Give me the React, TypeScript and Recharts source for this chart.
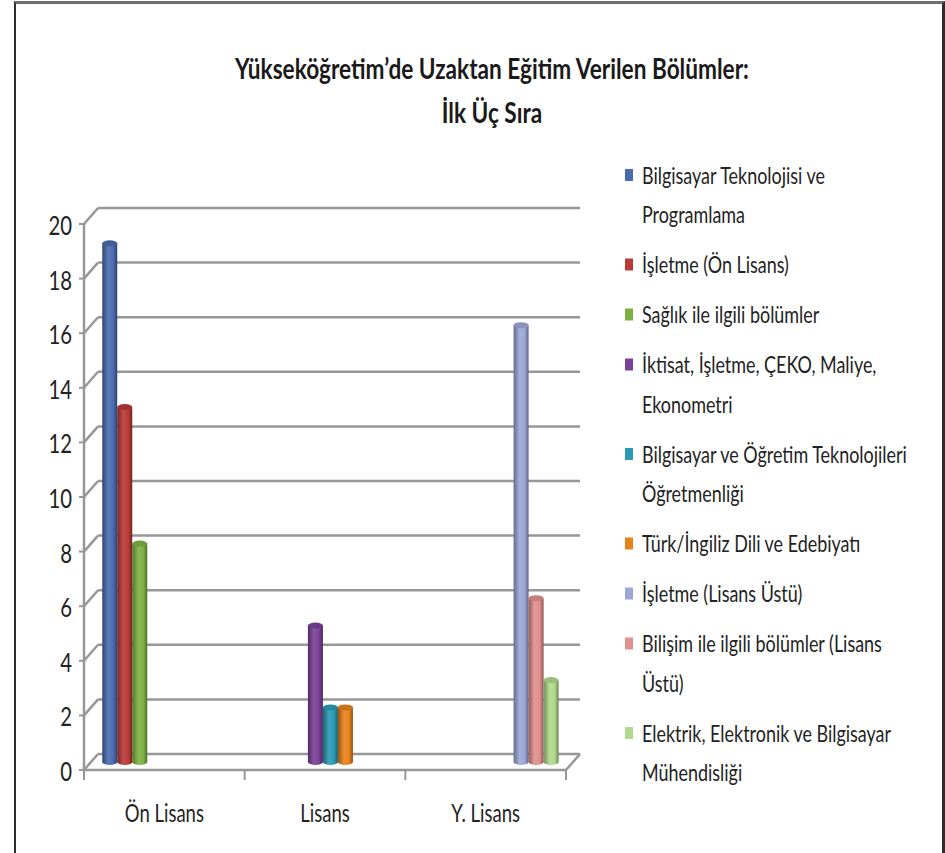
import React from "react";
import { BarChart, Bar, XAxis, YAxis, CartesianGrid, Legend } from "recharts";

const categories = ["Ön Lisans", "Lisans", "Y. Lisans"];
const seriesNames = [
  "Bilgisayar Teknolojisi ve Programlama",
  "İşletme (Ön Lisans)",
  "Sağlık ile ilgili bölümler",
  "İktisat, İşletme, ÇEKO, Maliye, Ekonometri",
  "Bilgisayar ve Öğretim Teknolojileri Öğretmenliği",
  "Türk/İngiliz Dili ve Edebiyatı",
  "İşletme (Lisans Üstü)",
  "Bilişim ile ilgili bölümler (Lisans Üstü)",
  "Elektrik, Elektronik ve Bilgisayar Mühendisliği",
];
const onLisansValues = [19, 13, 8, 0, 0, 0, 0, 0, 0];
const lisansValues = [0, 0, 0, 5, 2, 2, 0, 0, 0];
const yLisansValues = [0, 0, 0, 0, 0, 0, 16, 6, 3];
const yTicks = [0, 2, 4, 6, 8, 10, 12, 14, 16, 18, 20];
const titleLines = ["Yükseköğretim’de Uzaktan Eğitim Verilen Bölümler:", "İlk Üç Sıra"];

const seriesColors = [
  "#4a6bb0", "#b93a37", "#7db243", "#7b4199", "#2c9ab4",
  "#e8831c", "#9ca7d8", "#e0908d", "#b0da8c",
];

const data = categories.map((category, i) => {
  const vals = [onLisansValues, lisansValues, yLisansValues][i];
  const row: Record<string, any> = { category };
  vals.forEach((v, j) => (row[`s${j}`] = v));
  return row;
});

// layout
const W = 945;
const H = 853;
const PLOT_LEFT = 91;
const PLOT_RIGHT = 573;
const PLOT_TOP = 216;
const PLOT_BOTTOM = 762;
const DX = 7; // depth offset of the 3d floor
const DY = 8;
const SX = 0.78; // the source text is squeezed sideways
const FONT = "Lato, 'Open Sans', sans-serif";
const TEXT = "#222";
const GRID = "#979797";
const LEGEND_FS = 23;

function shade(hex: string, amt: number) {
  const n = parseInt(hex.slice(1), 16);
  const f = (c: number) =>
    amt < 0 ? Math.round(c * (1 + amt)) : Math.round(c + (255 - c) * amt);
  return `rgb(${f((n >> 16) & 255)},${f((n >> 8) & 255)},${f(n & 255)})`;
}

let ctx: CanvasRenderingContext2D | null = null;
function textWidth(s: string) {
  if (!ctx) ctx = document.createElement("canvas").getContext("2d");
  ctx!.font = `${LEGEND_FS}px ${FONT}`;
  return ctx!.measureText(s).width * SX;
}
function wrap(s: string, max: number) {
  const lines: string[] = [];
  let cur = "";
  for (const w of s.split(" ")) {
    const t = cur ? cur + " " + w : w;
    if (cur && textWidth(t) > max) {
      lines.push(cur);
      cur = w;
    } else cur = t;
  }
  if (cur) lines.push(cur);
  return lines;
}

function Cylinder(props: any) {
  const { x, y, width, height, fill } = props;
  if (!height || height <= 0.5) return null;
  const id = `cyl-${fill.replace("#", "")}`;
  const rx = width / 2;
  const ry = Math.max(2, width * 0.2);
  return (
    <g>
      <defs>
        <linearGradient id={id} x1="0" y1="0" x2="1" y2="0">
          <stop offset="0" stopColor={shade(fill, -0.35)} />
          <stop offset="0.4" stopColor={shade(fill, 0.1)} />
          <stop offset="0.75" stopColor={fill} />
          <stop offset="1" stopColor={shade(fill, -0.4)} />
        </linearGradient>
      </defs>
      <ellipse cx={x + rx} cy={y + height} rx={rx} ry={ry} fill={`url(#${id})`} />
      <rect x={x} y={y} width={width} height={height} fill={`url(#${id})`} />
      <ellipse cx={x + rx} cy={y} rx={rx} ry={ry} fill={shade(fill, -0.12)} />
    </g>
  );
}

const gridLine = (p: any) => {
  const y = p.y1;
  const isBottom = Math.abs(y - PLOT_BOTTOM) < 1;
  const st = { stroke: GRID, strokeWidth: 2.5 };
  return (
    <g key={p.key}>
      <line x1={p.x1 - DX} y1={y + DY} x2={p.x1 + DX} y2={y - DY} {...st} />
      <line x1={p.x1 + DX} y1={y - DY} x2={p.x2 + DX} y2={y - DY} {...st} />
      {isBottom && (
        <line x1={p.x2 - DX} y1={y + DY} x2={p.x2 + DX} y2={y - DY} {...st} />
      )}
    </g>
  );
};

function YTick(props: any) {
  const { payload } = props;
  const y = payload.coordinate + DY + 1;
  return (
    <text
      transform={`translate(${PLOT_LEFT - DX - 12},${y}) scale(${SX},1)`}
      textAnchor="end"
      dominantBaseline="central"
      fontFamily={FONT}
      fontSize={26}
      fill={TEXT}
    >
      {payload.value}
    </text>
  );
}

function XTick(props: any) {
  const { payload } = props;
  const c = payload.coordinate - DX;
  const half = payload.offset || 0;
  return (
    <g>
      <line x1={c + half} y1={PLOT_BOTTOM + DY} x2={c + half} y2={PLOT_BOTTOM + DY + 10} stroke={GRID} strokeWidth={2} />
      {payload.index === 0 && (
        <line x1={c - half} y1={PLOT_BOTTOM + DY} x2={c - half} y2={PLOT_BOTTOM + DY + 10} stroke={GRID} strokeWidth={2} />
      )}
      <text
        transform={`translate(${c},${PLOT_BOTTOM + 50}) scale(0.74,1)`}
        textAnchor="middle"
        dominantBaseline="central"
        fontFamily={FONT}
        fontSize={25}
        fill={TEXT}
      >
        {payload.value}
      </text>
    </g>
  );
}

function LegendBox() {
  let cy = 175;
  const LINE = 39.5;
  const GAP = 10.5;
  const items = seriesNames.map((name, i) => {
    const lines = wrap(name, 282);
    const top = cy;
    cy += lines.length * LINE + GAP;
    return (
      <g key={name}>
        <rect x={625} y={top - 6} width={8} height={12} fill={seriesColors[i]} />
        {lines.map((ln, k) => (
          <text
            key={k}
            transform={`translate(642,${top + k * LINE}) scale(${SX},1)`}
            dominantBaseline="central"
            fontFamily={FONT}
            fontSize={LEGEND_FS}
            fill={TEXT}
          >
            {ln}
          </text>
        ))}
      </g>
    );
  });
  return (
    <svg width={W} height={H} style={{ position: "absolute", left: 0, top: 0 }}>
      {items}
    </svg>
  );
}

export default function App() {
  return (
    <div style={{ position: "absolute", left: 0, top: 0, width: W, height: H, background: "#fff", overflow: "hidden" }}>
      <div
        style={{
          position: "absolute",
          left: 14,
          top: 1,
          width: 931,
          height: 852,
          boxSizing: "border-box",
          borderLeft: "2px solid #2e2e2e",
          borderRight: "3px solid #2e2e2e",
          borderTop: "3px solid #6f6f6f",
        }}
      />
      <svg width={W} height={140} style={{ position: "absolute", left: 0, top: 0 }}>
        {titleLines.map((t, i) => (
          <text
            key={t}
            transform={`translate(492,${68 + i * 44}) scale(${SX},1)`}
            textAnchor="middle"
            dominantBaseline="central"
            fontFamily={FONT}
            fontWeight="bold"
            fontSize={29}
            fill="#1a1a1a"
          >
            {t}
          </text>
        ))}
      </svg>
      <div style={{ position: "absolute", left: 0, top: 0 }}>
        <BarChart
          width={W}
          height={H}
          data={data}
          margin={{ top: PLOT_TOP, right: W - PLOT_RIGHT, bottom: H - PLOT_BOTTOM - 60, left: PLOT_LEFT - 60 }}
          barCategoryGap="7%"
          barGap={0}
        >
          <CartesianGrid vertical={false} horizontal={gridLine} />
          <XAxis
            dataKey="category"
            height={60}
            tickLine={false}
            axisLine={{ stroke: GRID, strokeWidth: 2.5, transform: `translate(${-DX},${DY})` }}
            tick={<XTick />}
            interval={0}
          />
          <YAxis
            width={60}
            domain={[0, 20]}
            ticks={yTicks}
            interval={0}
            tickSize={5}
            axisLine={{ stroke: GRID, strokeWidth: 2.5, transform: `translate(${-DX},${DY})` }}
            tickLine={{ stroke: GRID, strokeWidth: 2, transform: `translate(${-DX},${DY})` }}
            tick={<YTick />}
          />
          <Legend
            layout="vertical"
            align="center"
            verticalAlign="middle"
            wrapperStyle={{ left: 0, top: 0, width: W, height: H, pointerEvents: "none" }}
            content={() => <LegendBox />}
          />
          {seriesNames.map((name, i) => (
            <Bar
              key={name}
              dataKey={`s${i}`}
              name={name}
              fill={seriesColors[i]}
              shape={<Cylinder />}
              isAnimationActive={false}
            />
          ))}
        </BarChart>
      </div>
    </div>
  );
}
